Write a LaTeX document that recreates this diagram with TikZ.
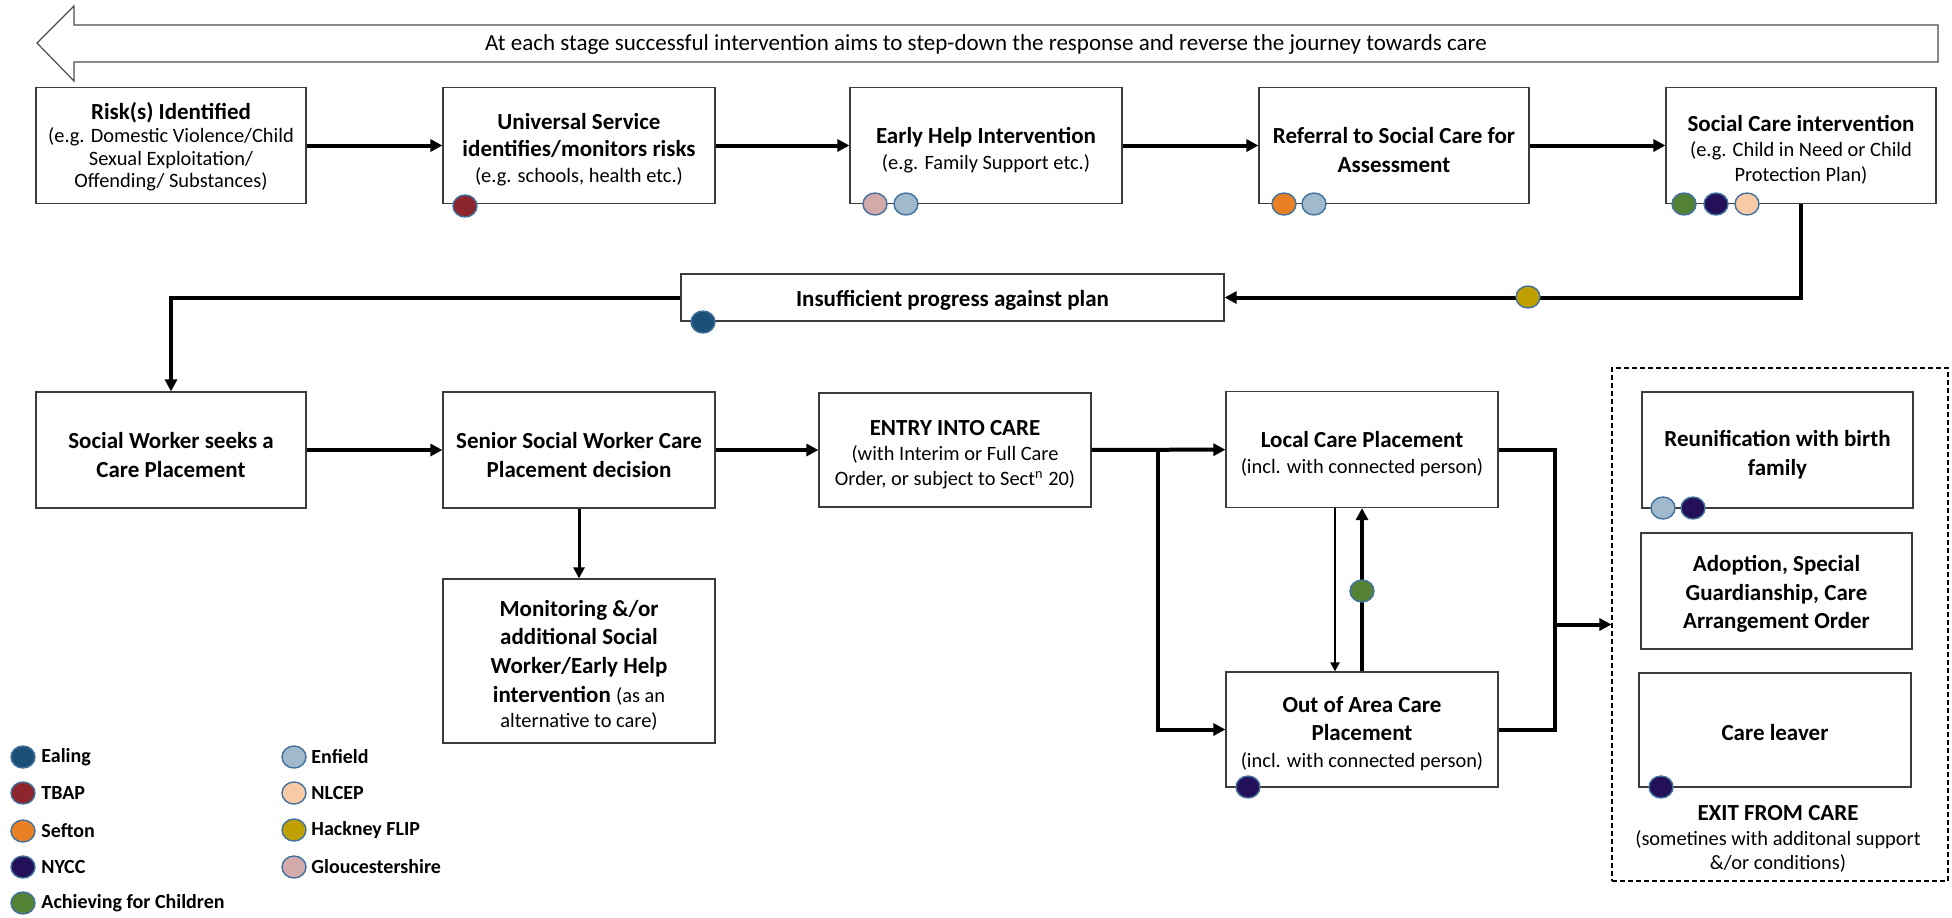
\documentclass[tikz,border=0pt]{standalone}
\usepackage{fontspec}
\setmainfont{Carlito}
\usetikzlibrary{arrows.meta,shapes.geometric}
\definecolor{cEaling}{RGB}{27,81,121}
\definecolor{cTBAP}{RGB}{140,37,45}
\definecolor{cSefton}{RGB}{234,128,36}
\definecolor{cNYCC}{RGB}{36,16,88}
\definecolor{cAfC}{RGB}{84,130,53}
\definecolor{cEnfield}{RGB}{160,185,205}
\definecolor{cNLCEP}{RGB}{248,203,166}
\definecolor{cHackney}{RGB}{190,160,0}
\definecolor{cGlouc}{RGB}{210,170,170}
\definecolor{dotline}{RGB}{65,113,156}
\definecolor{boxline}{RGB}{60,60,60}
\newcommand\ttl{\fontsize{11.5}{14.3}\selectfont\bfseries}
\newcommand\sbt{\fontsize{10.2}{12.6}\selectfont\mdseries}
\newcommand\mixf[1]{\fontsize{10.2}{#1}\selectfont}
\begin{document}
\begin{tikzpicture}[x=0.5pt,y=-0.5pt,
  box/.style={draw=boxline, line width=0.6pt, fill=white, inner sep=0pt, minimum width=135pt, minimum height=58pt},
  txt/.style={align=center, inner sep=0pt},
  btxt/.style={txt, font=\ttl},
  conn/.style={line width=2pt, -{Triangle[length=6pt,width=6pt]}},
  thinconn/.style={line width=1.2pt, -{Triangle[length=4.5pt,width=4.5pt]}},
  plain/.style={line width=2pt},
  dot/.style={ellipse, draw=dotline, line width=0.7pt, minimum width=12pt, minimum height=11pt, inner sep=0pt},
  legtext/.style={anchor=west, inner sep=0pt, font=\fontsize{10}{12}\selectfont\bfseries}
]
\useasboundingbox (0,0) rectangle (1952,917);

% banner arrow
\draw[draw=black!70, line width=0.6pt, fill=white] (37,43) -- (74,6) -- (74,25) -- (1938,25) -- (1938,62) -- (74,62) -- (74,81) -- cycle;
\node[font=\fontsize{11.5}{13.5}\selectfont] (banner) at (986,44) {At each stage successful intervention aims to step-down the response and reverse the journey towards care};

% exit dashed box
\node[draw=black, line width=0.6pt, dash pattern=on 2.5pt off 1.5pt, minimum width=168pt, minimum height=256.5pt, inner sep=0pt] (exitbox) at (1780,624.5) {};

% row 1
\node[box] (risk) at (171,145.5) {};
\node[txt, font=\mixf{11.4}] (riskt) at ([yshift=-0.7pt]risk.center) {{\ttl Risk(s) Identified}\\(e.g. Domestic Violence/Child\\Sexual Exploitation/\\Offending/ Substances)};
\node[box, minimum width=136pt] (univ) at (579,145.5) {};
\node[txt, font=\mixf{13.2}] (univt) at ([yshift=-2.2pt]univ.center) {{\ttl Universal Service}\\{\ttl identifies/monitors risks}\\(e.g. schools, health etc.)};
\node[box, minimum width=136pt] (early) at (986,145.5) {};
\node[txt, font=\mixf{13}] (earlyt) at ([yshift=-2.2pt]early.center) {{\ttl Early Help Intervention}\\(e.g. Family Support etc.)};
\node[box] (refer) at (1394,145.5) {};
\node[btxt] (refert) at ([yshift=-2.2pt]refer.center) {Referral to Social Care for\\Assessment};
\node[box] (sc) at (1801,145.5) {};
\node[txt, font=\mixf{12.7}] (sct) at ([yshift=-2.2pt]sc.center) {{\ttl Social Care intervention}\\(e.g. Child in Need or Child\\Protection Plan)};

% row 2
\node[box, minimum width=271.5pt, minimum height=23.5pt] (insuf) at (952.5,297.5) {};
\node[btxt] (insuft) at ([yshift=-1.5pt]insuf.center) {Insufficient progress against plan};

% row 3
\node[box] (sw) at (171,450) {};
\node[btxt] (swt) at ([yshift=-2.5pt]sw.center) {Social Worker seeks a\\Care Placement};
\node[box, minimum width=136pt] (senior) at (579,450) {};
\node[btxt] (seniort) at ([yshift=-2.5pt]senior.center) {Senior Social Worker Care\\Placement decision};
\node[box, minimum width=136pt, minimum height=57pt] (entry) at (955,450) {};
\node[txt, font=\mixf{12.5}] (entryt) at ([yshift=-2.5pt]entry.center) {{\ttl ENTRY INTO CARE}\\(with Interim or Full Care\\Order, or subject to Sect\textsuperscript{n} 20)};
\node[box, minimum width=136pt] (local) at (1362,449.5) {};
\node[txt, font=\mixf{13}] (localt) at ([yshift=-2.5pt]local.center) {{\ttl Local Care Placement}\\(incl. with connected person)};
\node[box, minimum width=136pt, minimum height=57.5pt] (out) at (1362,729.5) {};
\node[btxt] (outt) at ([yshift=-2pt]out.center) {Out of Area Care\\Placement\\[-0.8pt]{\sbt (incl. with connected person)}};
\node[box, minimum width=136pt, minimum height=82pt] (monitor) at (579,661) {};
\node[btxt] (monitort) at ([yshift=-2pt]monitor.center) {Monitoring \&/or\\additional Social\\Worker/Early Help\\intervention {\sbt (as an}\\[-1.8pt]{\sbt alternative to care)}};

% exit boxes
\node[box, minimum width=135.5pt] (reun) at (1777.5,450) {};
\node[btxt] (reunt) at ([yshift=-2.5pt]reun.center) {Reunification with birth\\family};
\node[box, minimum width=135.5pt] (adopt) at (1776.5,591) {};
\node[btxt] (adoptt) at ([yshift=-1.5pt]adopt.center) {Adoption, Special\\Guardianship, Care\\Arrangement Order};
\node[box, minimum width=136pt, minimum height=57pt] (leaver) at (1775,730) {};
\node[btxt] (leavert) at ([yshift=-1pt]leaver.center) {Care leaver};
\node[font=\mixf{12.3}, align=center, inner sep=0pt] (exittext) at (1778,839) {{\ttl EXIT FROM CARE}\\(sometines with additonal support\\\&/or conditions)};

% helper coordinates
\coordinate (brx) at (1158,0);
\coordinate (rx) at (1555,0);
\coordinate (dx) at (1335,0);

% connectors
\draw[conn] (risk) -- (univ);
\draw[conn] (univ) -- (early);
\draw[conn] (early) -- (refer);
\draw[conn] (refer) -- (sc);
\draw[conn] (sc.south) |- (insuf.east);
\draw[conn] (insuf.west) -| (sw.north);
\draw[conn] (sw) -- (senior);
\draw[conn] (senior) -- (entry);
\draw[conn] (entry) -- (local);
\draw[conn] (brx |- entry.east) |- (out.west);
\draw[plain] (local.east) -| (rx |- out.east) -- (out.east);
\draw[conn] (rx |- exitbox.west) -- (exitbox.west);
\draw[line width=1.5pt, -{Triangle[length=5.5pt,width=5.5pt]}] (senior.south) -- (monitor.north);
\draw[thinconn] (dx |- local.south) -- (dx |- out.north);
\draw[conn] (out.north) -- (local.south);

% dots
\node[dot, fill=cTBAP] (d1) at (465,206) {};
\node[dot, fill=cGlouc] (d2) at (875,204) {};
\node[dot, fill=cEnfield] (d3) at (906,204) {};
\node[dot, fill=cSefton] (d4) at (1284,204) {};
\node[dot, fill=cEnfield] (d5) at (1314,204) {};
\node[dot, fill=cAfC] (d6) at (1684,204) {};
\node[dot, fill=cNYCC] (d7) at (1716,204) {};
\node[dot, fill=cNLCEP] (d8) at (1747,204) {};
\node[dot, fill=cHackney] (d9) at (1528,297) {};
\node[dot, fill=cEaling] (d10) at (703,322) {};
\node[dot, fill=cAfC] (d11) at (1362,591) {};
\node[dot, fill=cNYCC] (d12) at (1248,787) {};
\node[dot, fill=cEnfield] (d13) at (1663,508) {};
\node[dot, fill=cNYCC] (d14) at (1693,508) {};
\node[dot, fill=cNYCC] (d15) at (1661,787) {};

% legend
\node[dot, fill=cEaling] (lg1) at (23,757) {};
\node[legtext] (lt1) at (41,757) {Ealing};
\node[dot, fill=cTBAP] (lg2) at (23,793) {};
\node[legtext] (lt2) at (41,793) {TBAP};
\node[dot, fill=cSefton] (lg3) at (23,831) {};
\node[legtext] (lt3) at (41,831) {Sefton};
\node[dot, fill=cNYCC] (lg4) at (23,867) {};
\node[legtext] (lt4) at (41,867) {NYCC};
\node[dot, fill=cAfC] (lg5) at (23,903) {};
\node[legtext] (lt5) at (41,903) {Achieving for Children};
\node[dot, fill=cEnfield] (lg6) at (294,757) {};
\node[legtext] (lt6) at (311,757) {Enfield};
\node[dot, fill=cNLCEP] (lg7) at (294,793) {};
\node[legtext] (lt7) at (311,793) {NLCEP};
\node[dot, fill=cHackney] (lg8) at (294,830) {};
\node[legtext] (lt8) at (311,830) {Hackney FLIP};
\node[dot, fill=cGlouc] (lg9) at (294,867) {};
\node[legtext] (lt9) at (311,867) {Gloucestershire};
\end{tikzpicture}
\end{document}
